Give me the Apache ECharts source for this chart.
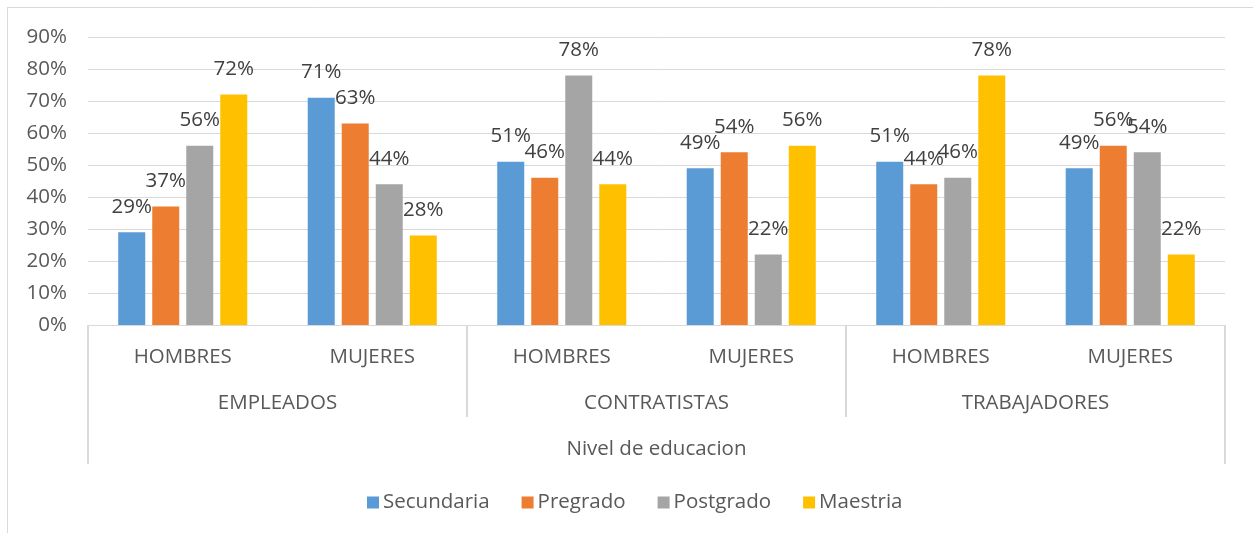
<!DOCTYPE html>
<html>
<head>
<meta charset="utf-8">
<script src="https://cdn.jsdelivr.net/npm/echarts@6/dist/echarts.min.js"></script>
<style>
html,body{margin:0;padding:0;background:#fff;}
#c{width:1253px;height:533px;}
</style>
</head>
<body>
<div id="c"></div>
<script>
const subCategories = ['HOMBRES','MUJERES','HOMBRES','MUJERES','HOMBRES','MUJERES'];
const groupCategories = ['EMPLEADOS','CONTRATISTAS','TRABAJADORES'];
const axisTitle = ['Nivel de educacion'];
const seriesNames = ['Secundaria','Pregrado','Postgrado','Maestria'];
const secundaria = [29,71,51,49,51,49];
const pregrado   = [37,63,46,54,44,56];
const postgrado  = [56,44,78,22,46,54];
const maestria   = [72,28,44,56,78,22];
const yTicks = [0,10,20,30,40,50,60,70,80,90];

const colors = ['#5B9BD5','#ED7D31','#A5A5A5','#FFC000'];
const FONT = 'Open Sans';
const FS = 20.5;
const values = [secundaria, pregrado, postgrado, maestria];

const chart = echarts.init(document.getElementById('c'), null, {renderer:'canvas'});
chart.setOption({
  animation:false,
  textStyle:{fontFamily:FONT},
  graphic:[
    {type:'line', shape:{x1:7.5,y1:7,x2:7.5,y2:533}, style:{stroke:'#d9d9d9',lineWidth:1}},
    {type:'line', shape:{x1:7,y1:7.5,x2:1253,y2:7.5}, style:{stroke:'#d9d9d9',lineWidth:1}}
  ],
  grid:{left:88,right:28,top:37,bottom:208,containLabel:false},
  legend:{
    data:seriesNames, left:367, top:492, padding:0, itemWidth:12, itemHeight:12, itemGap:32,
    icon:'rect',
    textStyle:{fontFamily:FONT,fontSize:FS,color:'#595959',padding:[0,0,0,-1]}
  },
  xAxis:[
    {type:'category', data:subCategories, position:'bottom', offset:0,
     axisLine:{show:true,lineStyle:{color:'#d9d9d9',width:1}},
     axisTick:{show:false},
     axisLabel:{interval:0,margin:22,fontFamily:FONT,fontSize:FS,color:'#595959'}},
    {type:'category', data:groupCategories, position:'bottom', offset:0, gridIndex:0,
     axisLine:{show:false},
     axisTick:{show:true,length:92,interval:0,lineStyle:{color:'#d9d9d9',width:2}},
     axisLabel:{interval:0,margin:68,fontFamily:FONT,fontSize:FS,color:'#595959'}},
    {type:'category', data:axisTitle, position:'bottom', offset:0, gridIndex:0,
     axisLine:{show:false},
     axisTick:{show:true,length:139,lineStyle:{color:'#d9d9d9',width:2}},
     axisLabel:{interval:0,margin:114,fontFamily:FONT,fontSize:FS,color:'#595959'}}
  ],
  yAxis:{
    type:'value', min:yTicks[0], max:yTicks[yTicks.length-1], interval:10,
    axisLine:{show:false}, axisTick:{show:false},
    splitLine:{lineStyle:{color:'#d9d9d9',width:1}},
    axisLabel:{formatter:'{value}%',margin:21,fontFamily:FONT,fontSize:FS,color:'#595959'}
  },
  series: seriesNames.map((n,i)=>({
    name:n, type:'bar', xAxisIndex:0, data:values[i],
    barWidth:27, barGap:'26%',
    itemStyle:{color:colors[i]},
    label:{show:true,position:'top',distance:15,formatter:'{c}%',fontFamily:FONT,fontSize:FS,color:'#404040'}
  }))
});
</script>
</body>
</html>
